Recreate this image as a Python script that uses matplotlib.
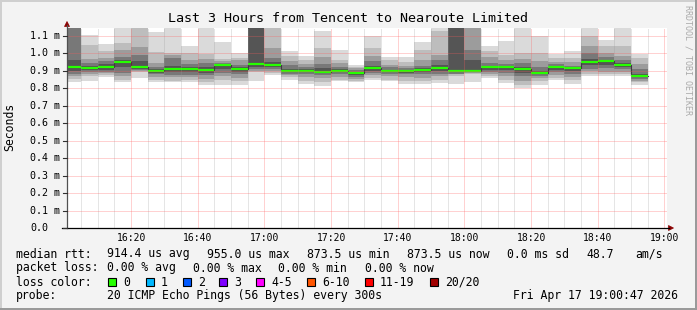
import numpy as np
import matplotlib.pyplot as plt
from matplotlib.lines import Line2D
from matplotlib.patches import Polygon, Rectangle

W, H = 697, 310
MONO = 'DejaVu Sans Mono'

# one column every 5 minutes (20 pings each)
slotStart = ['16:00', '16:05', '16:10', '16:15', '16:20', '16:25', '16:30', '16:35', '16:40',
             '16:45', '16:50', '16:55', '17:00', '17:05', '17:10', '17:15', '17:20', '17:25',
             '17:30', '17:35', '17:40', '17:45', '17:50', '17:55', '18:00', '18:05', '18:10',
             '18:15', '18:20', '18:25', '18:30', '18:35', '18:40', '18:45', '18:50']

# median rtt in ms
medianRtt = [0.925, 0.919, 0.925, 0.949, 0.925, 0.898, 0.913, 0.913, 0.903, 0.932,
             0.909, 0.942, 0.936, 0.897, 0.902, 0.893, 0.902, 0.886, 0.915, 0.898,
             0.897, 0.904, 0.919, 0.902, 0.902, 0.925, 0.921, 0.909, 0.886, 0.925,
             0.915, 0.949, 0.955, 0.934, 0.8735]

# smoke band edges in ms, outer band first
smokeHi = [[1.2, 1.2, 1.2, 1.2, 0.96], [1.106, 1.05, 0.97, 0.945, 0.93], [1.056, 1.012, 0.975, 0.955, 0.94],
           [1.2, 1.06, 1.02, 0.98, 0.96], [1.2, 1.2, 1.035, 0.99, 0.955], [1.123, 1.01, 0.945, 0.925, 0.91],
           [1.2, 1.0, 0.99, 0.975, 0.93], [1.045, 1.0, 0.96, 0.94, 0.925], [1.2, 0.995, 0.97, 0.945, 0.92],
           [1.064, 0.97, 0.955, 0.945, 0.935], [1.003, 0.975, 0.96, 0.935, 0.92], [1.2, 1.2, 1.2, 1.2, 1.2],
           [1.2, 1.2, 1.03, 0.975, 0.95], [1.012, 0.985, 0.955, 0.935, 0.91], [0.983, 0.96, 0.94, 0.925, 0.91],
           [1.13, 1.03, 0.98, 0.94, 0.915], [1.022, 0.965, 0.945, 0.925, 0.91], [0.936, 0.925, 0.915, 0.905, 0.895],
           [1.098, 1.03, 0.985, 0.955, 0.93], [0.978, 0.96, 0.935, 0.92, 0.905], [0.978, 0.95, 0.93, 0.915, 0.905],
           [1.066, 1.022, 0.965, 0.93, 0.915], [1.2, 1.13, 0.99, 0.96, 0.935], [1.2, 1.2, 1.2, 1.2, 1.2],
           [1.2, 1.2, 1.2, 1.02, 0.96], [1.04, 1.012, 0.98, 0.945, 0.93], [1.069, 0.99, 0.96, 0.94, 0.93],
           [1.2, 1.0, 0.97, 0.945, 0.925], [1.103, 1.0, 0.955, 0.92, 0.9], [0.997, 0.975, 0.95, 0.94, 0.93],
           [1.016, 0.975, 0.95, 0.93, 0.92], [1.2, 1.1, 1.045, 1.0, 0.97], [1.079, 1.045, 1.005, 0.98, 0.965],
           [1.2, 1.045, 0.985, 0.96, 0.945], [0.997, 0.975, 0.94, 0.91, 0.885]]
smokeLo = [[0.837, 0.855, 0.87, 0.885, 0.898], [0.84, 0.872, 0.885, 0.895, 0.905], [0.865, 0.875, 0.887, 0.895, 0.905],
           [0.838, 0.85, 0.87, 0.89, 0.92], [0.86, 0.892, 0.898, 0.905, 0.91], [0.835, 0.85, 0.865, 0.88, 0.89],
           [0.835, 0.845, 0.865, 0.875, 0.895], [0.835, 0.85, 0.865, 0.875, 0.895], [0.82, 0.835, 0.855, 0.875, 0.89],
           [0.82, 0.85, 0.87, 0.89, 0.91], [0.818, 0.84, 0.86, 0.88, 0.895], [0.84, 0.896, 0.9, 0.91, 0.92],
           [0.875, 0.89, 0.9, 0.91, 0.925], [0.85, 0.865, 0.875, 0.885, 0.892], [0.825, 0.845, 0.865, 0.88, 0.895],
           [0.815, 0.835, 0.86, 0.875, 0.888], [0.84, 0.85, 0.865, 0.88, 0.893], [0.835, 0.845, 0.855, 0.865, 0.875],
           [0.85, 0.86, 0.875, 0.89, 0.9], [0.84, 0.85, 0.87, 0.885, 0.893], [0.826, 0.845, 0.865, 0.88, 0.89],
           [0.826, 0.84, 0.86, 0.88, 0.895], [0.83, 0.85, 0.87, 0.885, 0.9], [0.826, 0.87, 0.88, 0.885, 0.893],
           [0.838, 0.88, 0.89, 0.895, 0.9], [0.86, 0.87, 0.88, 0.895, 0.905], [0.83, 0.85, 0.87, 0.89, 0.905],
           [0.803, 0.82, 0.845, 0.87, 0.89], [0.82, 0.84, 0.86, 0.87, 0.88], [0.85, 0.86, 0.875, 0.895, 0.905],
           [0.826, 0.85, 0.865, 0.885, 0.9], [0.87, 0.885, 0.9, 0.91, 0.935], [0.87, 0.88, 0.895, 0.915, 0.935],
           [0.87, 0.885, 0.895, 0.91, 0.925], [0.82, 0.835, 0.845, 0.855, 0.865]]
bandColors = ['#dadada', '#bdbdbd', '#9c9c9c', '#787878', '#555555']

xTickLabels = ['16:20', '16:40', '17:00', '17:20', '17:40', '18:00', '18:20', '18:40', '19:00']
yTicks = [0.0, 0.1, 0.2, 0.3, 0.4, 0.5, 0.6, 0.7, 0.8, 0.9, 1.0, 1.1]
yTickLabels = ['0.0', '0.1 m', '0.2 m', '0.3 m', '0.4 m', '0.5 m', '0.6 m', '0.7 m', '0.8 m',
               '0.9 m', '1.0 m', '1.1 m']

lossLabels = ['0', '1', '2', '3', '4-5', '6-10', '11-19', '20/20']
lossColors = ['#26ff00', '#00b8ff', '#0059ff', '#7e00ff', '#ff00ff', '#ff5500', '#ff0000', '#a10000']

timeStart = '16:00:47'
timeEnd = '19:00:47'


def toMin(s):
    parts = [int(p) for p in s.split(':')]
    m = parts[0] * 60 + parts[1] - 16 * 60
    if len(parts) > 2:
        m += parts[2] / 60.0
    return m


def px(x, y):
    return x / W, 1 - y / H


fig = plt.figure(figsize=(W / 100, H / 100), dpi=100)
fig.patch.set_facecolor('#f3f3f3')

axL, axT, axR, axB = 67, 28, 667, 228
ax = fig.add_axes([axL / W, 1 - axB / H, (axR - axL) / W, (axB - axT) / H])
ax.set_facecolor('white')
ax.set_xlim(toMin(timeStart), toMin(timeEnd))
ax.set_ylim(0, 1.146)
for s in ax.spines.values():
    s.set_visible(False)
ax.set_xticks([])
ax.set_yticks([])

starts = np.array([toMin(s) for s in slotStart])
edges = np.append(starts, starts[-1] + 5)
hi = np.array(smokeHi)
lo = np.array(smokeLo)
med = np.array(medianRtt)

# smoke, outer (light) bands first
for k in range(len(bandColors)):
    ax.fill_between(edges, np.append(lo[:, k], lo[-1, k]), np.append(hi[:, k], hi[-1, k]),
                    step='post', color=bandColors[k], linewidth=0, zorder=2)

# median line
ax.step(edges, np.append(med, med[-1]), where='post', color='#202020', lw=0.8, zorder=3)
ax.hlines(med, starts, starts + 5, colors=lossColors[0], lw=1.6, zorder=4)

# grid, 1px dots
dots = dict(lw=0.72, ls=(0, (1, 1)), snap=True, zorder=5)
majorX = [toMin(t) for t in xTickLabels]
for m in np.arange(5, 181, 5):
    if m in majorX:
        continue
    ax.axvline(m, color=(0.6, 0.6, 0.6, 0.5), **dots)
for m in majorX:
    ax.axvline(m, color=(1, 0.35, 0.35, 0.55), **dots)
for v in yTicks[1:]:
    ax.axhline(v, color=(1, 0.35, 0.35, 0.55), **dots)

# axis lines and arrows
fig.add_artist(Line2D([px(axL, 0)[0]] * 2, [px(0, axB)[1], px(0, 25)[1]], color='#505050', lw=0.9))
fig.add_artist(Line2D([px(62, 0)[0], px(669, 0)[0]], [px(0, axB)[1]] * 2, color='black', lw=0.9))
fig.add_artist(Polygon([px(64.5, 26.5), px(69.5, 26.5), px(67, 21.5)], closed=True,
                       facecolor='#8b0000', edgecolor='#8b0000', lw=0.5))
fig.add_artist(Polygon([px(668.5, axB - 2.5), px(668.5, axB + 2.5), px(673.5, axB)], closed=True,
                       facecolor='#8b0000', edgecolor='#8b0000', lw=0.5))

# y ticks and labels
for v, lab in zip(yTicks, yTickLabels):
    yf = ax.transData.transform((0, v))[1] / H
    fig.add_artist(Line2D([px(63, 0)[0], px(67, 0)[0]], [yf, yf], color='#303030', lw=0.8))
    fig.text(px(30, 0)[0], yf, lab, family=MONO, fontsize=7.2, ha='left', va='center')

for m, lab in zip(majorX, xTickLabels):
    xf = ax.transData.transform((m, 0))[0] / W
    fig.text(xf, px(0, 238)[1], lab, family=MONO, fontsize=7.0, ha='center', va='center')

fig.text(*px(348, 18), 'Last 3 Hours from Tencent to Nearoute Limited', family=MONO,
         fontsize=9.6, ha='center', va='center')
fig.text(*px(10, 127), 'Seconds', family=MONO, fontsize=8.3, rotation=90, ha='center', va='center')
fig.text(*px(688, 60), 'RRDTOOL / TOBI OETIKER', family=MONO, fontsize=6.0, rotation=270,
         ha='center', va='center', color='#aaaaaa')

# legend lines
fs = 8.3
rows = [
    (254, [(16, 'median rtt:'), (107, '914.4 us avg'), (207, '955.0 us max'), (307, '873.5 us min'),
           (407, '873.5 us now'), (507, '0.0 ms sd'), (586, '48.7'), (635, 'am/s')]),
    (268, [(16, 'packet loss:'), (107, '0.00 % avg'), (193, '0.00 % max'), (278, '0.00 % min'),
           (365, '0.00 % now')]),
    (296, [(16, 'probe:'), (107, '20 ICMP Echo Pings (56 Bytes) every 300s'),
           (513, 'Fri Apr 17 19:00:47 2026')]),
]
for y, items in rows:
    for x, s in items:
        fig.text(*px(x, y), s, family=MONO, fontsize=fs, ha='left', va='center')

fig.text(*px(16, 282), 'loss color:', family=MONO, fontsize=fs, ha='left', va='center')
boxX = [108, 146, 183, 219, 256, 307, 365, 430]
for x, lab, col in zip(boxX, lossLabels, lossColors):
    fig.add_artist(Rectangle(px(x, 286), 8 / W, 8 / H, facecolor=col, edgecolor='black', lw=0.8))
    fig.text(*px(x + 15, 282), lab, family=MONO, fontsize=fs, ha='left', va='center')

# 3d frame
fig.add_artist(Rectangle((0, 1 - 2 / H), 1, 2 / H, facecolor='#cfcfcf', lw=0))
fig.add_artist(Rectangle((0, 0), 2 / W, 1, facecolor='#cfcfcf', lw=0))
fig.add_artist(Rectangle((0, 0), 1, 2 / H, facecolor='#9a9a9a', lw=0))
fig.add_artist(Rectangle((1 - 2 / W, 0), 2 / W, 1, facecolor='#9a9a9a', lw=0))

fig.savefig('out.png', dpi=100, facecolor=fig.get_facecolor())
